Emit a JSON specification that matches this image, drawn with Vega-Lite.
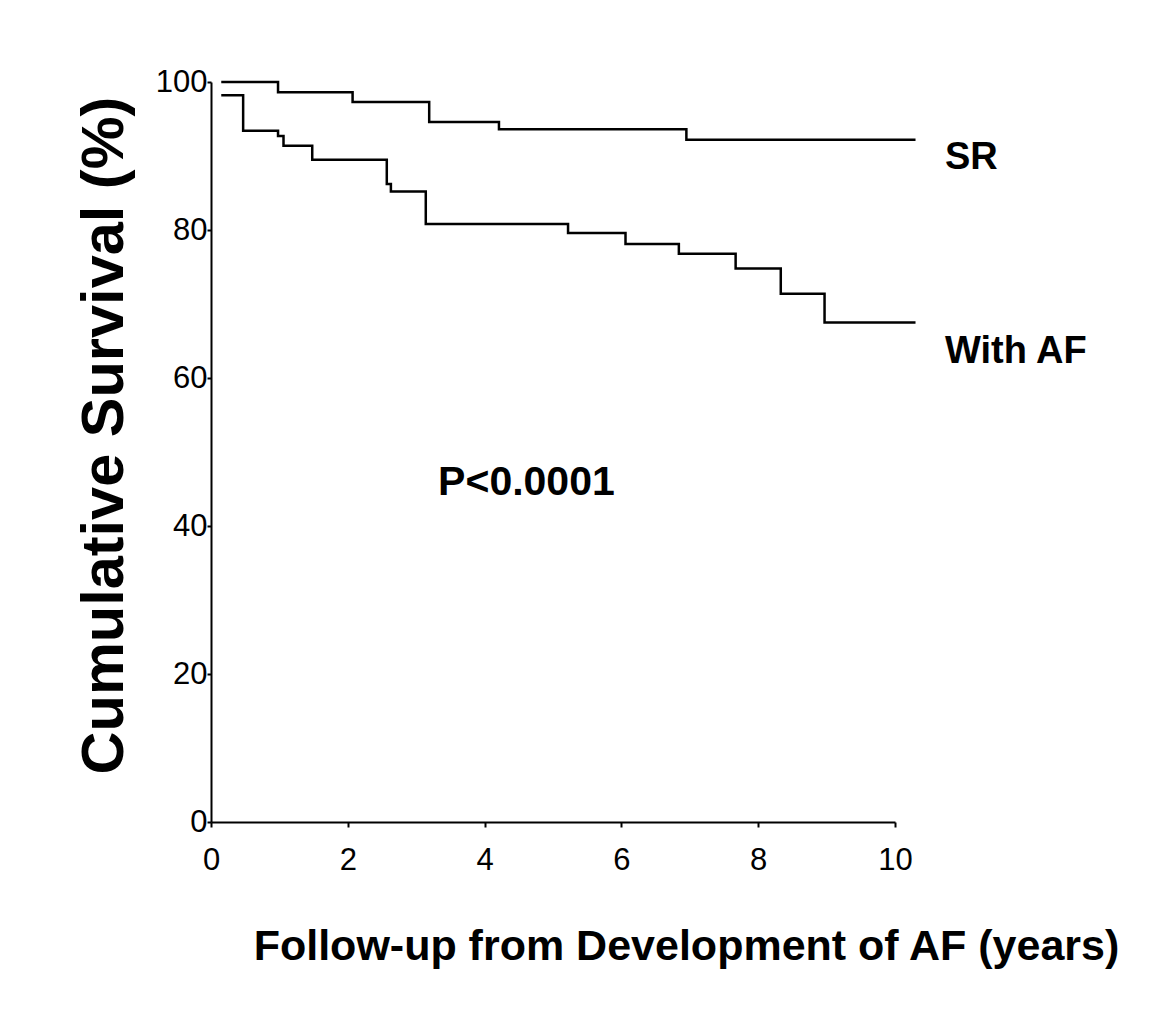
{
  "$schema": "https://vega.github.io/schema/vega-lite/v6.json",
  "width": 684,
  "height": 740,
  "autosize": "none",
  "padding": {"left": 211, "top": 82, "right": 278, "bottom": 187},
  "background": "white",
  "config": {
    "view": {"stroke": null},
    "axis": {
      "grid": false,
      "labelFlush": false,
      "labelOverlap": false,
      "domainColor": "black",
      "domainWidth": 2,
      "tickColor": "black",
      "tickWidth": 2,
      "labelColor": "black",
      "titleColor": "black",
      "labelFont": "Liberation Sans, Arial, sans-serif",
      "labelFontSize": 31,
      "titleFont": "Liberation Sans, Arial, sans-serif",
      "titleFontWeight": "bold"
    }
  },
  "datasets": {
    "curves": [
      {"group": "SR", "t": 0.15, "s": 100},
      {"group": "SR", "t": 0.98, "s": 98.6},
      {"group": "SR", "t": 2.07, "s": 97.3},
      {"group": "SR", "t": 3.19, "s": 94.6},
      {"group": "SR", "t": 4.21, "s": 93.6},
      {"group": "SR", "t": 6.95, "s": 92.2},
      {"group": "SR", "t": 10.3, "s": 92.2},
      {"group": "AF", "t": 0.15, "s": 98.2},
      {"group": "AF", "t": 0.47, "s": 93.4},
      {"group": "AF", "t": 0.98, "s": 92.7},
      {"group": "AF", "t": 1.06, "s": 91.4},
      {"group": "AF", "t": 1.48, "s": 89.5},
      {"group": "AF", "t": 2.57, "s": 86.2},
      {"group": "AF", "t": 2.63, "s": 85.2},
      {"group": "AF", "t": 3.14, "s": 80.8},
      {"group": "AF", "t": 5.22, "s": 79.6},
      {"group": "AF", "t": 6.06, "s": 78.1},
      {"group": "AF", "t": 6.84, "s": 76.8},
      {"group": "AF", "t": 7.67, "s": 74.8},
      {"group": "AF", "t": 8.33, "s": 71.4},
      {"group": "AF", "t": 8.97, "s": 67.5},
      {"group": "AF", "t": 10.3, "s": 67.5}
    ],
    "labels": [
      {"label": "SR", "t": 10.73, "s": 88.2, "size": 38},
      {"label": "With AF", "t": 10.73, "s": 62.0, "size": 38},
      {"label": "P<0.0001", "t": 3.32, "s": 44.2, "size": 41}
    ]
  },
  "layer": [
    {
      "data": {"name": "curves"},
      "mark": {"type": "line", "interpolate": "step-after", "color": "black", "strokeWidth": 2.5, "clip": false},
      "encoding": {
        "x": {
          "field": "t", "type": "quantitative",
          "scale": {"domain": [0, 10], "nice": false, "zero": true},
          "axis": {
            "values": [0, 2, 4, 6, 8, 10],
            "format": "d",
            "tickSize": 5,
            "labelPadding": 18,
            "title": "Follow-up from Development of AF (years)",
            "titleFontSize": 43,
            "titleX": 475,
            "titleY": 137,
            "titleAlign": "center",
            "titleBaseline": "alphabetic"
          }
        },
        "y": {
          "field": "s", "type": "quantitative",
          "scale": {"domain": [0, 100], "nice": false},
          "axis": {
            "values": [0, 20, 40, 60, 80, 100],
            "format": "d",
            "tickSize": 4,
            "labelPadding": 0,
            "title": "Cumulative Survival (%)",
            "titleFontSize": 59.5,
            "titleX": -89,
            "titleY": 353,
            "titleAngle": -90,
            "titleAlign": "center",
            "titleBaseline": "alphabetic"
          }
        },
        "detail": {"field": "group"}
      }
    },
    {
      "data": {"name": "labels"},
      "mark": {"type": "text", "align": "left", "baseline": "alphabetic", "font": "Liberation Sans, Arial, sans-serif", "fontWeight": "bold", "color": "black"},
      "encoding": {
        "x": {"field": "t", "type": "quantitative"},
        "y": {"field": "s", "type": "quantitative"},
        "text": {"field": "label"},
        "size": {"field": "size", "type": "quantitative", "scale": null, "legend": null}
      }
    }
  ]
}
